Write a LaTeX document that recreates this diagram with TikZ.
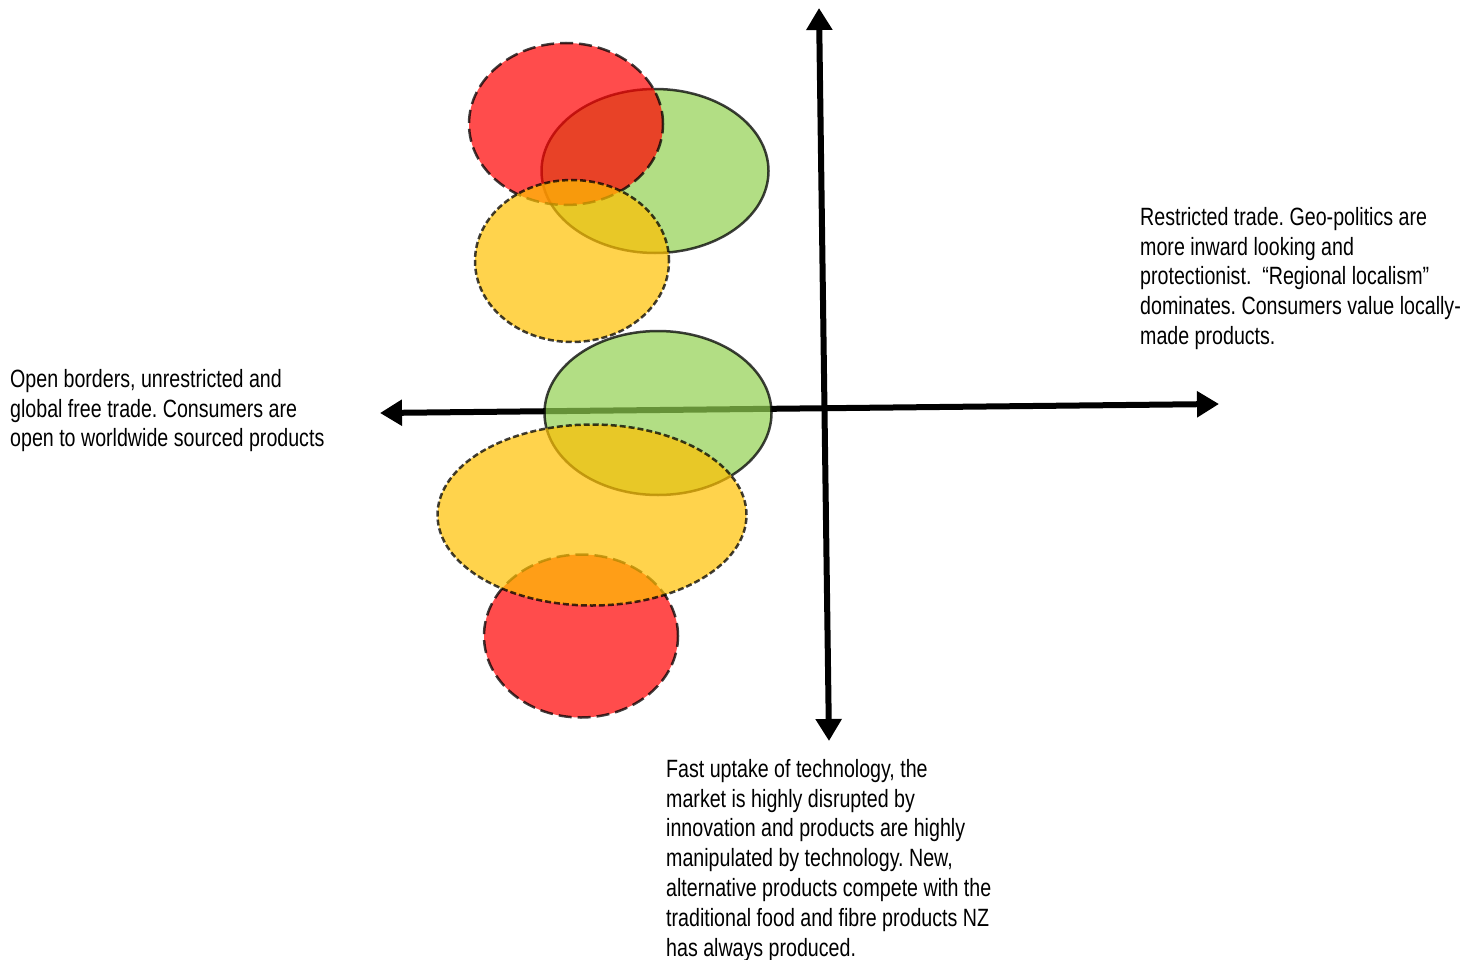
\documentclass[tikz,border=0pt]{standalone}
\usepackage{fontspec}
\setmainfont{Liberation Sans}[FakeStretch=0.785]
\usetikzlibrary{shapes.geometric,arrows.meta}
\definecolor{zred}{HTML}{FF0000}
\definecolor{zgreen}{HTML}{92D050}
\definecolor{zyellow}{HTML}{FFC000}
\frenchspacing
\begin{document}
\begin{tikzpicture}[x=1pt,y=-1pt,
  blob/.style={ellipse, draw=black, line width=2.5pt, fill opacity=0.7, draw opacity=0.75, inner sep=0pt},
  redblob/.style={blob, fill=zred, dash pattern=on 13pt off 6pt},
  greenblob/.style={blob, fill=zgreen},
  yellowblob/.style={blob, fill=zyellow, dash pattern=on 6pt off 3pt},
  axis/.style={line width=6pt, {Triangle[width=25pt,length=22pt]}-{Triangle[width=25pt,length=22pt]}},
  label/.style={anchor=north west, inner sep=0pt, align=left, font=\fontsize{25}{29.8}\selectfont}]
  \useasboundingbox (0,0) rectangle (1479,960);

  % axes
  \coordinate (ytop) at (819,8);
  \coordinate (ybot) at (829,741);
  \coordinate (xleft) at (380,413);
  \coordinate (xright) at (1219,404);
  \draw[axis] (ytop) -- (ybot);
  \draw[axis] (xleft) -- (xright);

  % upper cluster
  \node[greenblob, minimum width=227, minimum height=164] (g1) at (655,171) {};
  \node[redblob, minimum width=194, minimum height=162] (r1) at (566,124) {};
  \node[yellowblob, minimum width=194, minimum height=162] (y1) at (572,261) {};

  % lower cluster
  \node[greenblob, minimum width=227, minimum height=164] (g2) at (658,413) {};
  \node[redblob, minimum width=194, minimum height=163] (r2) at (581,636) {};
  \node[yellowblob, minimum width=309, minimum height=181] (y2) at (592,515) {};

  % quadrant descriptions
  \node[label] (tright) at (1140,207) {Restricted trade. Geo-politics are\\more inward looking and\\protectionist.\ \ “Regional localism”\\dominates. Consumers value locally-\\made products.};
  \node[label] (tleft) at (10,369) {Open borders, unrestricted and\\global free trade. Consumers are\\open to worldwide sourced products};
  \node[label] (tbottom) at (666,759) {Fast uptake of technology, the\\market is highly disrupted by\\innovation and products are highly\\manipulated by technology. New,\\alternative products compete with the\\traditional food and fibre products NZ\\has always produced.};
\end{tikzpicture}
\end{document}
